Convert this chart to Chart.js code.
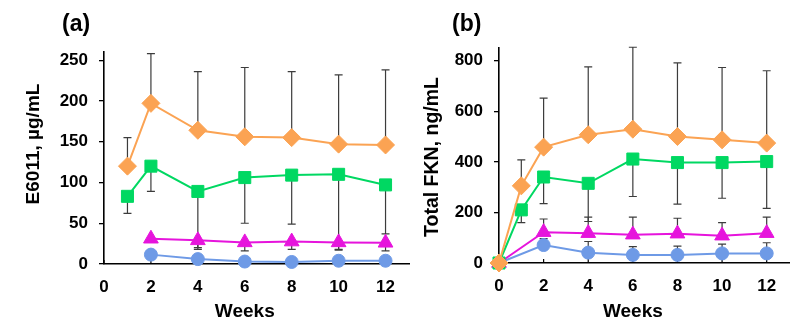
<!DOCTYPE html>
<html>
<head>
<meta charset="utf-8">
<script src="https://cdn.jsdelivr.net/npm/chart.js@4"></script>
<style>
  body { margin: 0; background: #fff; }
  #wrap { position: relative; width: 800px; height: 333px; overflow: hidden; }
  #chartA { position: absolute; left: 0; top: 0; }
  #chartB { position: absolute; left: 400px; top: 0; z-index: 1; }
</style>
</head>
<body>
<div id="wrap">
  <canvas id="chartA" width="420" height="333"></canvas>
  <canvas id="chartB" width="400" height="333"></canvas>
</div>
<script>
// panel (a): E6011 serum levels
const weeksA = [1, 2, 4, 6, 8, 10, 12];
const aOrange = [120, 197, 164, 156, 155, 147, 146];
const aOrangeSD = [35, 61, 72, 85, 81, 85, 92];
const aGreen = [83, 120, 89, 106, 109, 110, 97];
const aGreenSD = [21, 31, 69, 56, 60, 92, 60];
const aMagenta = [null, 31, 29, 26.5, 27.5, 26.5, 26];
const aMagentaSD = [null, null, 11, 10.5, 9.5, 9.5, 10];
const aBlue = [null, 11.5, 6, 3, 2.5, 4, 4];

// panel (b): total FKN
const weeksB = [0, 1, 2, 4, 6, 8, 10, 12];
const bOrange = [0, 305, 458, 507, 529, 500, 487, 474];
const bOrangeSD = [null, 103, 194, 268, 324, 291, 286, 286];
const bGreen = [0, 210, 340, 315, 411, 397, 397, 401];
const bGreenSD = [null, 50, 105, 151, 148, 164, 141, 185];
const bMagenta = [0, null, 122, 118, 112, 116, 108, 118];
const bMagentaSD = [null, null, 52, 63, 69, 61, 52, 63];
const bBlue = [0, null, 71, 41, 32, 32, 38, 38];
const bBlueSD = [null, null, 25, 44, 33, 35, 37, 42];

const xTicks = [0, 2, 4, 6, 8, 10, 12];

const FONT = '"Liberation Sans", Arial, sans-serif';
const ORANGE = '#FBA353', GREEN = '#00D862', MAGENTA = '#E614DC', BLUE = '#6E9AE6';

function series(weeks, vals, color, shape, radius, sd, dir) {
  return {
    data: weeks.map((w, i) => ({ x: w, y: vals[i] })),
    borderColor: color,
    backgroundColor: color,
    borderWidth: 2,
    pointStyle: shape,
    pointRadius: radius,
    pointBorderWidth: 1,
    pointBackgroundColor: color,
    pointBorderColor: color,
    spanGaps: true,
    clip: false,
    sd: sd || null,
    dir: dir || 1
  };
}

// error bars (one-sided), inner x tick marks, axis titles and panel letter
const extras = {
  id: 'extras',
  beforeDatasetsDraw(chart, args, o) {
    const { ctx, scales: { x, y } } = chart;
    ctx.save();
    ctx.strokeStyle = '#3c3c3c';
    ctx.lineWidth = 1.2;
    chart.data.datasets.forEach(ds => {
      if (!ds.sd) return;
      ds.data.forEach((p, i) => {
        const s = ds.sd[i];
        if (p.y == null || s == null) return;
        const px = x.getPixelForValue(p.x);
        const y0 = y.getPixelForValue(p.y);
        const y1 = y.getPixelForValue(p.y + ds.dir * s);
        ctx.beginPath();
        ctx.moveTo(px, y0); ctx.lineTo(px, y1);
        ctx.moveTo(px - 4, y1); ctx.lineTo(px + 4, y1);
        ctx.stroke();
      });
    });
    ctx.strokeStyle = '#000';
    ctx.lineWidth = 1.2;
    xTicks.forEach(t => {
      const px = x.getPixelForValue(t);
      ctx.beginPath();
      ctx.moveTo(px, y.bottom); ctx.lineTo(px, y.bottom - 4);
      ctx.stroke();
    });
    ctx.restore();
  },
  afterDraw(chart, args, o) {
    const { ctx, scales: { x } } = chart;
    ctx.save();
    ctx.fillStyle = '#000';
    ctx.textAlign = 'center';
    ctx.textBaseline = 'middle';
    ctx.font = 'bold 19px ' + FONT;
    const cx = (x.getPixelForValue(xTicks[0]) + x.getPixelForValue(xTicks[xTicks.length - 1])) / 2;
    ctx.fillText('Weeks', cx, 312);
    ctx.save();
    ctx.translate(o.yTitleX, o.yTitleY);
    ctx.rotate(-Math.PI / 2);
    ctx.font = 'bold ' + o.yTitleSize + 'px ' + FONT;
    ctx.fillText(o.yTitle, 0, 0);
    ctx.restore();
    ctx.textAlign = 'left';
    ctx.font = 'bold 23px ' + FONT;
    ctx.fillText(o.panel, o.panelX, 25);
    ctx.restore();
  }
};

function makeChart(id, datasets, cfg) {
  return new Chart(document.getElementById(id), {
    type: 'line',
    data: { datasets },
    plugins: [extras],
    options: {
      responsive: false,
      animation: false,
      devicePixelRatio: 1,
      layout: { padding: { top: cfg.top, right: cfg.right, left: 0, bottom: 0 } },
      plugins: {
        legend: { display: false },
        tooltip: { enabled: false },
        extras: cfg.extras
      },
      scales: {
        x: {
          type: 'linear',
          min: 0, max: 13,
          afterFit: s => { s.height = cfg.xHeight; },
          grid: { display: false, drawTicks: false },
          border: { display: true, color: '#000', width: 1.6 },
          ticks: {
            stepSize: 2, includeBounds: false, padding: 13,
            color: '#000', font: { family: FONT, size: 17, weight: 'bold' }
          }
        },
        y: {
          min: 0, max: cfg.yMax,
          afterFit: s => { s.width = cfg.yWidth; },
          grid: { display: true, drawOnChartArea: false, drawTicks: true, tickLength: 5, color: '#000', lineWidth: 1.3 },
          border: { display: true, color: '#000', width: 1.6 },
          ticks: {
            stepSize: cfg.yStep, includeBounds: false, padding: 11,
            color: '#000', font: { family: FONT, size: 17, weight: 'bold' }
          }
        }
      }
    }
  });
}

makeChart('chartA', [
  series(weeksA, aOrange, ORANGE, 'rectRot', 9, aOrangeSD, 1),
  series(weeksA, aGreen, GREEN, 'rect', 8.5, aGreenSD, -1),
  series(weeksA, aMagenta, MAGENTA, 'triangle', 8.5, aMagentaSD, -1),
  series(weeksA, aBlue, BLUE, 'circle', 6.5)
], {
  top: 52, right: 11, xHeight: 69, yWidth: 104, yMax: 260, yStep: 50,
  extras: { yTitle: 'E6011, µg/mL', yTitleX: 34, yTitleY: 144, yTitleSize: 19, panel: '(a)', panelX: 62 }
});

makeChart('chartB', [
  series(weeksB, bOrange, ORANGE, 'rectRot', 9, bOrangeSD, 1),
  series(weeksB, bGreen, GREEN, 'rect', 8.5, bGreenSD, -1),
  series(weeksB, bMagenta, MAGENTA, 'triangle', 8.5, bMagentaSD, 1),
  series(weeksB, bBlue, BLUE, 'circle', 6.5, bBlueSD, 1)
], {
  top: 48, right: 11, xHeight: 70, yWidth: 99, yMax: 850, yStep: 200,
  extras: { yTitle: 'Total FKN, ng/mL', yTitleX: 33, yTitleY: 157, yTitleSize: 19.5, panel: '(b)', panelX: 52 }
});
</script>
</body>
</html>
